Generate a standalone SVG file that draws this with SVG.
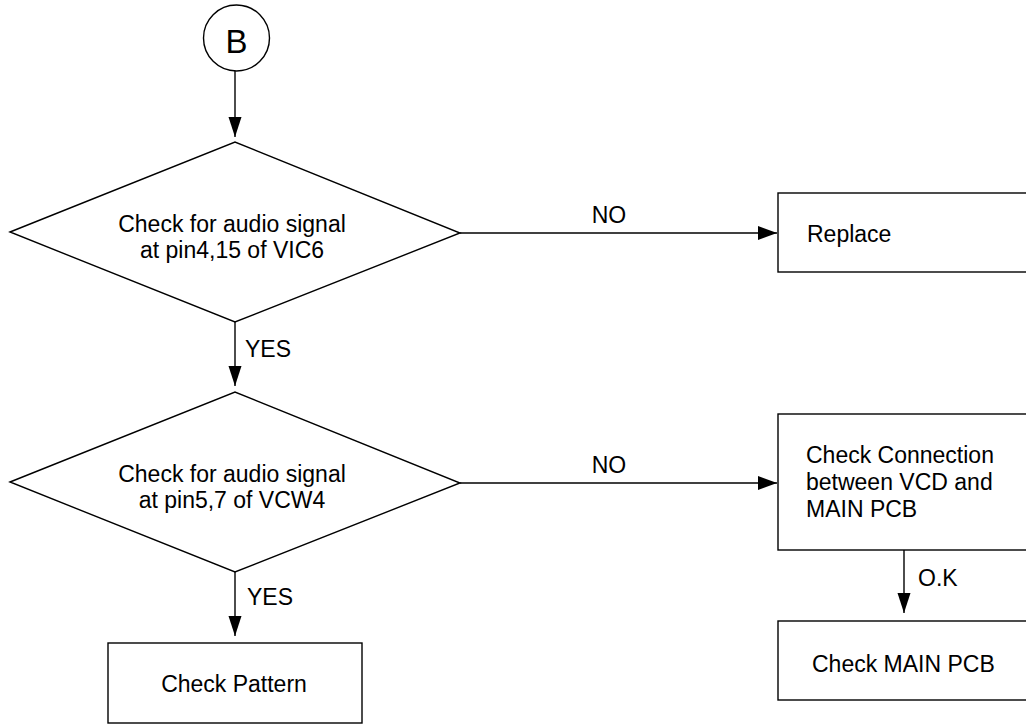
<svg xmlns="http://www.w3.org/2000/svg" width="1026" height="724" viewBox="0 0 1026 724">
<style>
.s{fill:#fff;stroke:#000;stroke-width:1.4}
.l{fill:none;stroke:#000;stroke-width:1.4}
text{font-family:"Liberation Sans",Arial,sans-serif;font-size:23px;fill:#000}
.c{text-anchor:middle}
</style>
<defs>
<marker id="a" markerUnits="userSpaceOnUse" markerWidth="20" markerHeight="14" refX="19" refY="7" orient="auto">
<path d="M0,0 L19,7 L0,14 Z" fill="#000"/>
</marker>
<marker id="b" markerUnits="userSpaceOnUse" markerWidth="20" markerHeight="14" refX="20" refY="6.5" orient="auto">
<path d="M0,0 L20,6.5 L0,13 Z" fill="#000"/>
</marker>
</defs>
<rect width="1026" height="724" fill="#fff"/>
<g id="connectors">
<line class="l" x1="235" y1="71" x2="235" y2="137" marker-end="url(#b)"/>
<line class="l" x1="460" y1="233" x2="777" y2="233" marker-end="url(#a)"/>
<text class="c" x="609" y="223">NO</text>
<line class="l" x1="235" y1="322" x2="235" y2="386" marker-end="url(#b)"/>
<text x="245" y="357">YES</text>
<line class="l" x1="460" y1="483" x2="777" y2="483" marker-end="url(#a)"/>
<text class="c" x="609" y="473">NO</text>
<line class="l" x1="235" y1="572" x2="235" y2="636" marker-end="url(#b)"/>
<text x="247" y="605">YES</text>
<line class="l" x1="904" y1="550" x2="904" y2="613" marker-end="url(#b)"/>
<text x="918" y="586">O.K</text>
</g>
<g id="start">
<circle class="s" cx="236.5" cy="38" r="33"/>
<text class="c" x="236.5" y="53" style="font-size:33px">B</text>
</g>
<g id="d1">
<polygon class="s" points="10,232 235,142 460,233 235,322"/>
<text class="c" x="232" y="232">Check for audio signal</text>
<text class="c" x="232" y="258">at pin4,15 of VIC6</text>
</g>
<g id="replace">
<rect class="s" x="778" y="193" width="270" height="79"/>
<text x="807" y="242">Replace</text>
</g>
<g id="d2">
<polygon class="s" points="10,482 235,392 460,483 235,572"/>
<text class="c" x="232" y="482">Check for audio signal</text>
<text class="c" x="232" y="508">at pin5,7 of VCW4</text>
</g>
<g id="conn">
<rect class="s" x="778" y="414" width="270" height="136"/>
<text x="806" y="463">Check Connection</text>
<text x="806" y="490">between VCD and</text>
<text x="806" y="517">MAIN PCB</text>
</g>
<g id="mainpcb">
<rect class="s" x="778" y="621" width="270" height="79"/>
<text x="812" y="672">Check MAIN PCB</text>
</g>
<g id="pattern">
<rect class="s" x="108" y="643" width="254" height="80"/>
<text class="c" x="234" y="692">Check Pattern</text>
</g>
</svg>
